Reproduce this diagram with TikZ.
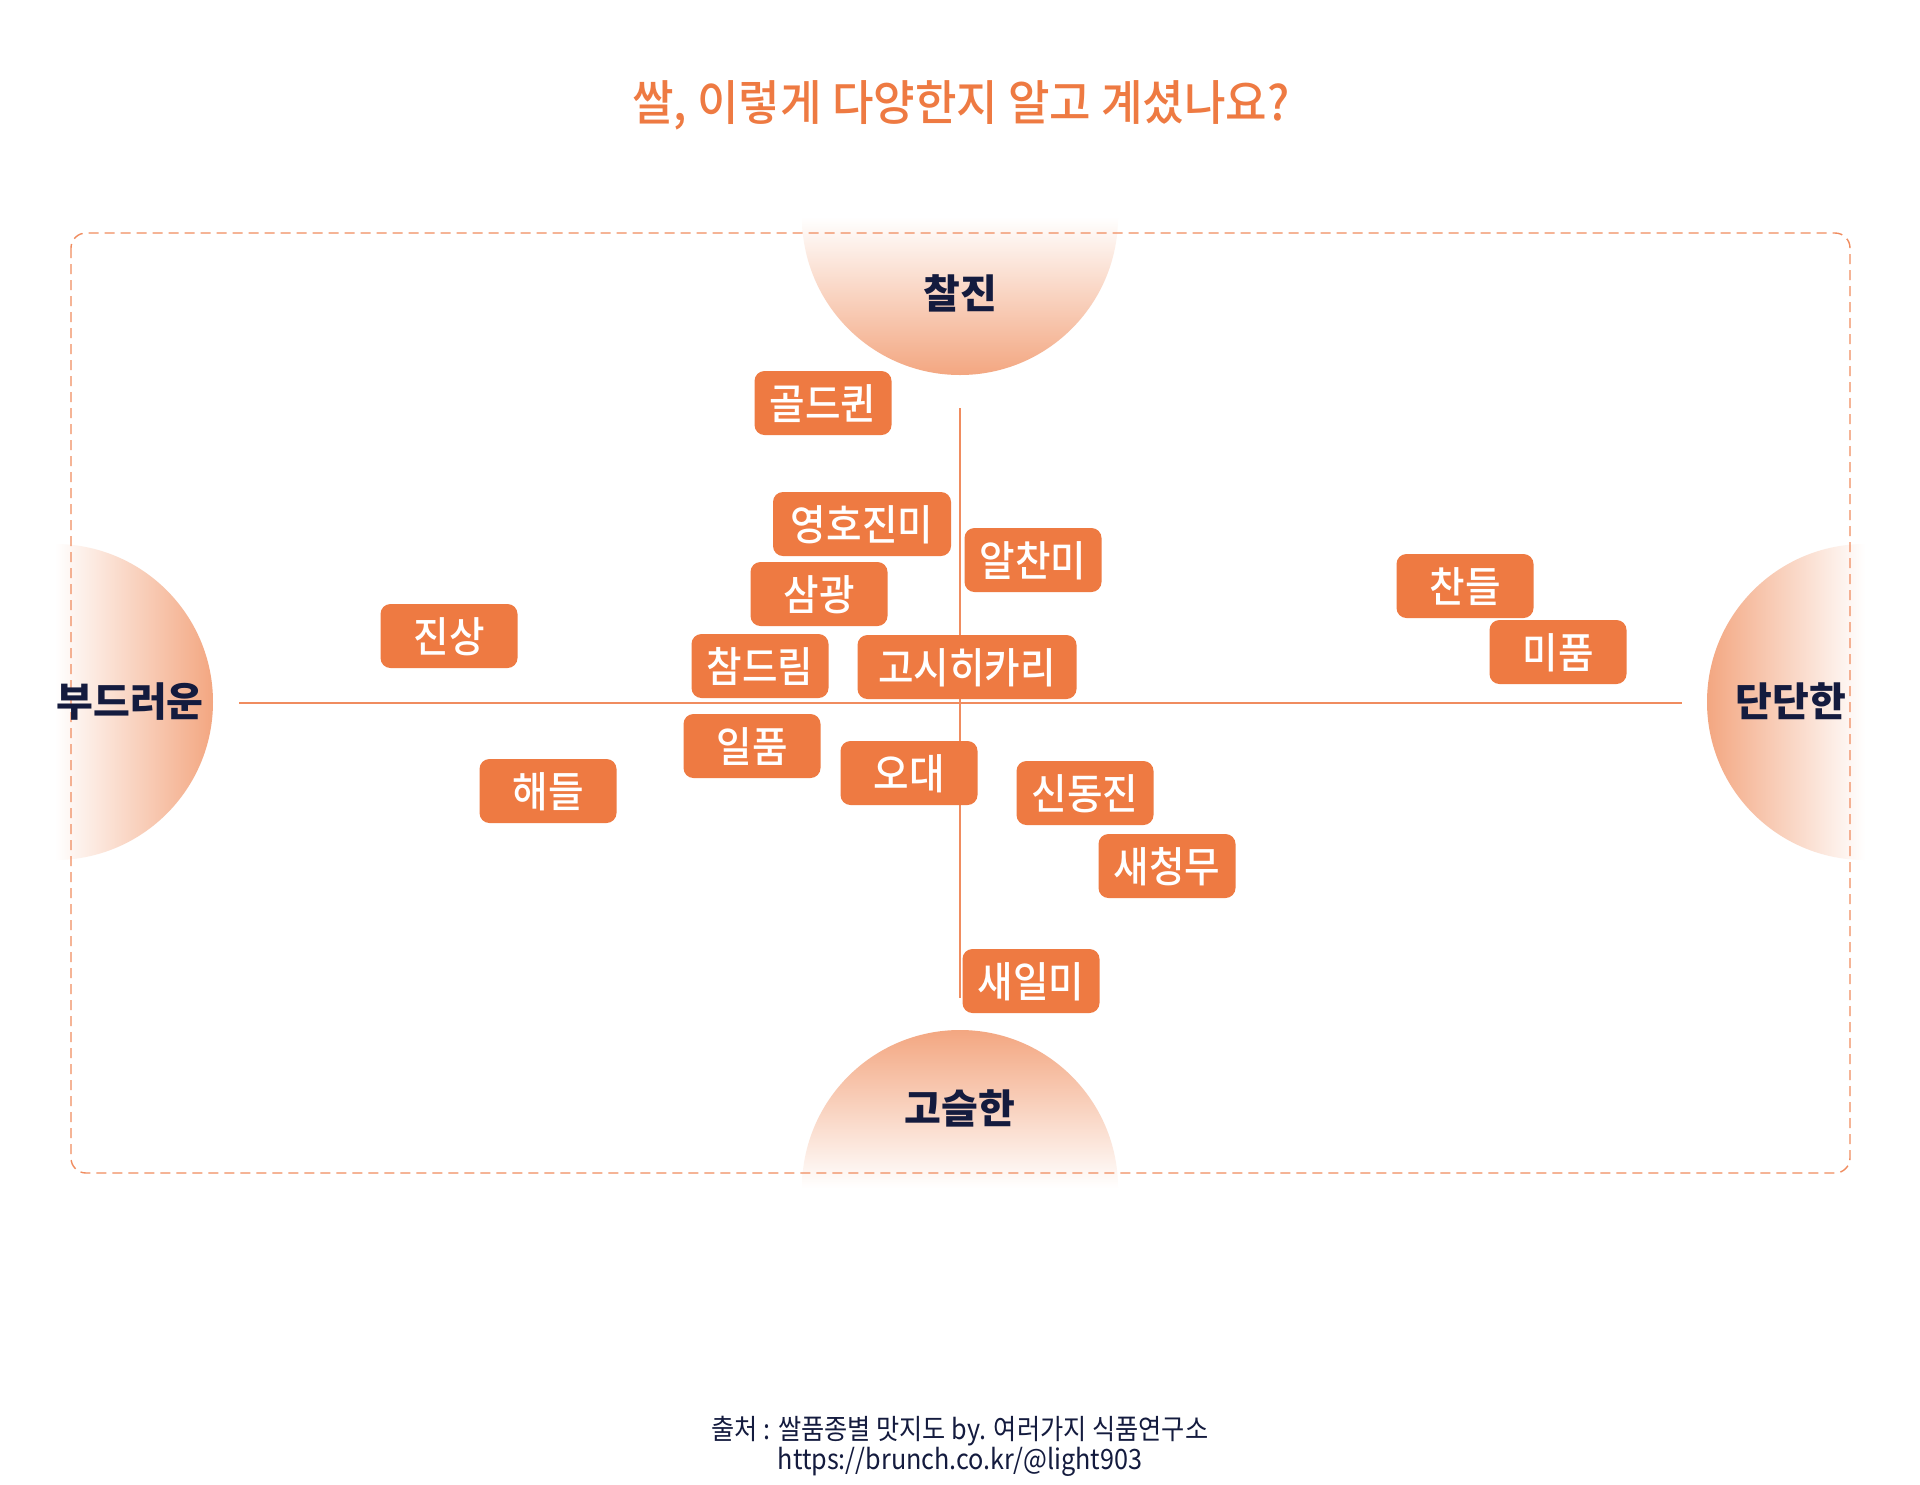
\documentclass[tikz,border=0pt]{standalone}
\usepackage{fontspec}
\IfFontExistsTF{Noto Sans CJK KR Medium}
 {\newfontfamily\krmed[FakeStretch=0.92]{Noto Sans CJK KR Medium}}
 {\newfontfamily\krmed[FakeStretch=0.92,FakeBold=1.2]{Noto Sans CJK KR}}
\IfFontExistsTF{Noto Sans CJK KR Medium}
 {\newfontfamily\krtitle[FakeStretch=0.94]{Noto Sans CJK KR Medium}}
 {\newfontfamily\krtitle[FakeStretch=0.94,FakeBold=1]{Noto Sans CJK KR}}
\IfFontExistsTF{Noto Sans CJK KR Black}
 {\newfontfamily\krblackfam{Noto Sans CJK KR Black}\newcommand\axisfont{\krblackfam}}
 {\newfontfamily\krblackfam[FakeBold=4]{Noto Sans CJK KR}\newcommand\axisfont{\krblackfam\bfseries}}
\newfontfamily\krreg[FakeStretch=0.9]{Noto Sans CJK KR}
\definecolor{boxorange}{RGB}{238,122,66}
\definecolor{peach}{RGB}{243,166,128}
\definecolor{navy}{RGB}{20,27,62}
\definecolor{lineorange}{RGB}{240,140,95}
\tikzset{
  ricebox/.style={fill=boxorange, rounded corners=10pt, minimum height=64pt,
    minimum width=137pt, inner sep=0pt, text=white,
    font=\krmed\fontsize{42}{50}\selectfont, text height=34.5pt, text depth=2pt},
  axislabel/.style={text=navy, inner sep=0pt, font=\axisfont\fontsize{40}{48}\selectfont,
    text height=33pt, text depth=2pt},
  axisline/.style={draw=lineorange, line width=1.3pt},
  frameline/.style={draw=lineorange, line width=1.4pt, dash pattern=on 10pt off 6pt, rounded corners=15pt}
}
\begin{document}
\begin{tikzpicture}[x=1pt,y=-1pt]
\useasboundingbox (0,0) rectangle (1920,1484);
\fill[white] (0,0) rectangle (1920,1484);

% title
\node[text=boxorange, inner sep=0pt, font=\krtitle\fontsize{48}{58}\selectfont,
  text height=39.5pt, text depth=3pt] (title) at (961,102) {쌀, 이렇게 다양한지 알고 계셨나요?};

% gradient half discs
\begin{scope}
  \clip (960,217) circle[radius=158];
  \shade[top color=white, bottom color=peach] (800,217) rectangle (1120,376);
\end{scope}
\begin{scope}
  \clip (960,1188) circle[radius=158];
  \shade[top color=peach, bottom color=white] (800,1029) rectangle (1120,1188);
\end{scope}
\begin{scope}
  \clip (55,702) circle[radius=158];
  \shade[left color=white, right color=peach] (55,542) rectangle (214,862);
\end{scope}
\begin{scope}
  \clip (1865,702) circle[radius=158];
  \shade[left color=peach, right color=white] (1706,542) rectangle (1865,862);
\end{scope}

% dashed frame
\draw[frameline] (71,233) rectangle (1850,1173);

% axes
\coordinate (hl) at (239,703);
\coordinate (hr) at (1682,703);
\coordinate (vt) at (960,408);
\coordinate (vb) at (960,998);
\draw[axisline] (hl) -- (hr);
\draw[axisline] (vt) -- (vb);

% axis labels
\node[axislabel] (top) at (960,293) {찰진};
\node[axislabel] (bottom) at (960,1108) {고슬한};
\node[axislabel] (left) at (130,701) {부드러운};
\node[axislabel] (right) at (1791,701) {단단한};

% rice varieties
\node[ricebox] (goldqueen) at (823,403) {골드퀸};
\node[ricebox, minimum width=178pt] (yeongho) at (862,524) {영호진미};
\node[ricebox] (alchanmi) at (1033,560) {알찬미};
\node[ricebox] (samgwang) at (819,594) {삼광};
\node[ricebox] (jinsang) at (449,636) {진상};
\node[ricebox] (chandeul) at (1465,586) {찬들};
\node[ricebox] (mipum) at (1558,652) {미품};
\node[ricebox] (chamdream) at (760,666) {참드림};
\node[ricebox, minimum width=219pt] (koshi) at (967,667) {고시히카리};
\node[ricebox] (ilpum) at (752,746) {일품};
\node[ricebox] (odae) at (909,773) {오대};
\node[ricebox] (haedeul) at (548,791) {해들};
\node[ricebox] (sindong) at (1085,793) {신동진};
\node[ricebox] (saecheong) at (1167,866) {새청무};
\node[ricebox] (saeil) at (1031,981) {새일미};

% source
\node[text=navy, inner sep=0pt, align=center, font=\krreg\fontsize{28}{26}\selectfont] (source) at (960,1446)
  {출처 : 쌀품종별 맛지도 by. 여러가지 식품연구소\\https://brunch.co.kr/@light903};
\end{tikzpicture}
\end{document}
